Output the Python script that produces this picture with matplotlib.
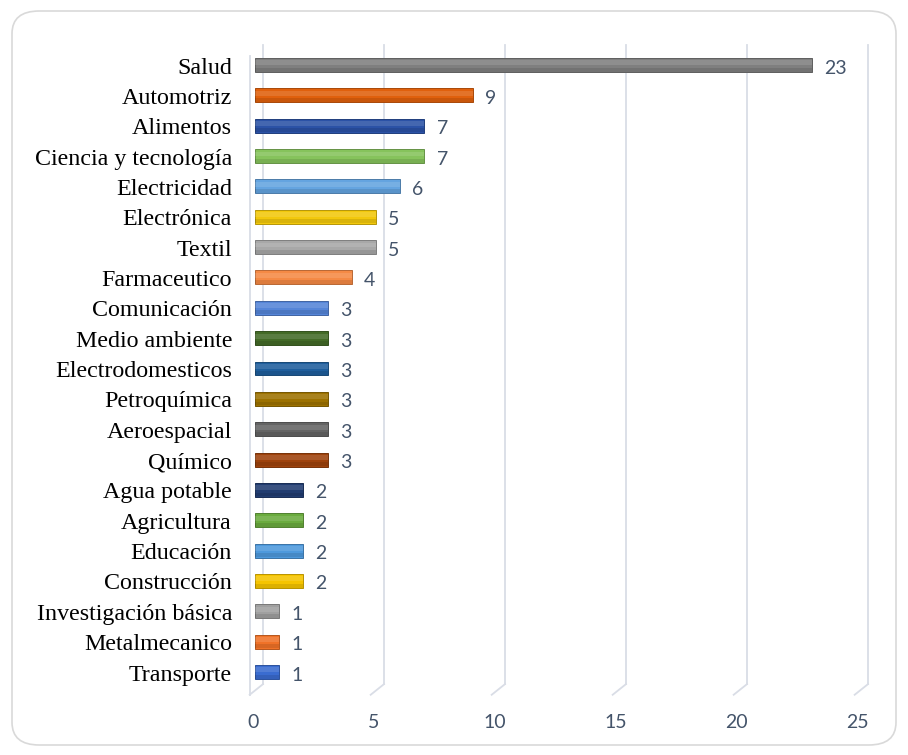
import matplotlib.pyplot as plt
import matplotlib.colors as mcolors
from matplotlib.patches import FancyBboxPatch

# data (top to bottom as shown)
categories = ['Salud', 'Automotriz', 'Alimentos', 'Ciencia y tecnología', 'Electricidad',
              'Electrónica', 'Textil', 'Farmaceutico', 'Comunicación', 'Medio ambiente',
              'Electrodomesticos', 'Petroquímica', 'Aeroespacial', 'Químico', 'Agua potable',
              'Agricultura', 'Educación', 'Construcción', 'Investigación básica',
              'Metalmecanico', 'Transporte']
values = [23, 9, 7, 7, 6, 5, 5, 4, 3, 3, 3, 3, 3, 3, 2, 2, 2, 2, 1, 1, 1]
colors = ['#7f7f7f', '#e0600c', '#2b52a6', '#86c35c', '#64a4e0',
          '#f2c80c', '#a8a8a8', '#f58a45', '#5585d8', '#436a27',
          '#1f5e9c', '#9c7100', '#646464', '#9e420c', '#213c70',
          '#6aab3e', '#4e99dc', '#f5c400', '#a0a0a0', '#f07228', '#3a6cd0']
xticks = [0, 5, 10, 15, 20, 25]

label_col = '#44546a'
grid_col = '#d9dde6'

fig = plt.figure(figsize=(9.08, 7.55), dpi=100)

# rounded chart border
border = FancyBboxPatch((12 / 908, 10 / 755), 884 / 908, 734 / 755,
                        boxstyle='round,pad=0,rounding_size=0.03',
                        transform=fig.transFigure, facecolor='none',
                        edgecolor='#d9d9d9', linewidth=1.2, zorder=-1)
fig.patches.append(border)

# axes: x 0..25 -> 255..860 px, bars spaced ~30.35 px
ax = fig.add_axes([255 / 908, (755 - 690) / 755, 605 / 908, 645 / 755])
n = len(categories)
y = list(range(n - 1, -1, -1))
ax.set_xlim(0, 25)
ax.set_ylim(-0.593, n - 1 + 0.66)
ax.axis('off')

# gridlines with 3D-like floor segment
back = 0.33
for t in xticks:
    ax.plot([t + back, t + back], [-0.4, n - 1 + 0.66], color=grid_col, lw=1.3,
            clip_on=False, zorder=0)
    ax.plot([t + back, t - 0.22], [-0.4, -0.75], color=grid_col, lw=1.3,
            clip_on=False, zorder=0)
    ax.text(t - 0.1, -1.68, str(t), ha='center', va='center', fontsize=14,
            family='Lato', color=label_col)
# front axis line at 0
ax.plot([-0.22, -0.22], [-0.75, n - 1 + 0.3], color=grid_col, lw=1.3,
        clip_on=False, zorder=0)

h = 0.46
for yi, v, c, name in zip(y, values, colors, categories):
    dark = [x * 0.75 for x in mcolors.to_rgb(c)]
    ax.barh(yi, v, height=h, color=c, edgecolor=dark, linewidth=0.7, zorder=2)
    # soft shading for cylinder look
    ax.barh(yi + h * 0.15, v, height=h * 0.35, color='white', alpha=0.12,
            linewidth=0, zorder=3)
    ax.barh(yi - h * 0.33, v, height=h * 0.28, color='black', alpha=0.10,
            linewidth=0, zorder=3)
    ax.text(v + 0.5, yi - 0.1, str(v), ha='left', va='center', fontsize=14,
            family='Lato', color=label_col)
    ax.text(-0.95, yi - 0.1, name, ha='right', va='center', fontsize=17.3,
            family='Liberation Serif', color='black')

fig.savefig('out.png', dpi=100)
